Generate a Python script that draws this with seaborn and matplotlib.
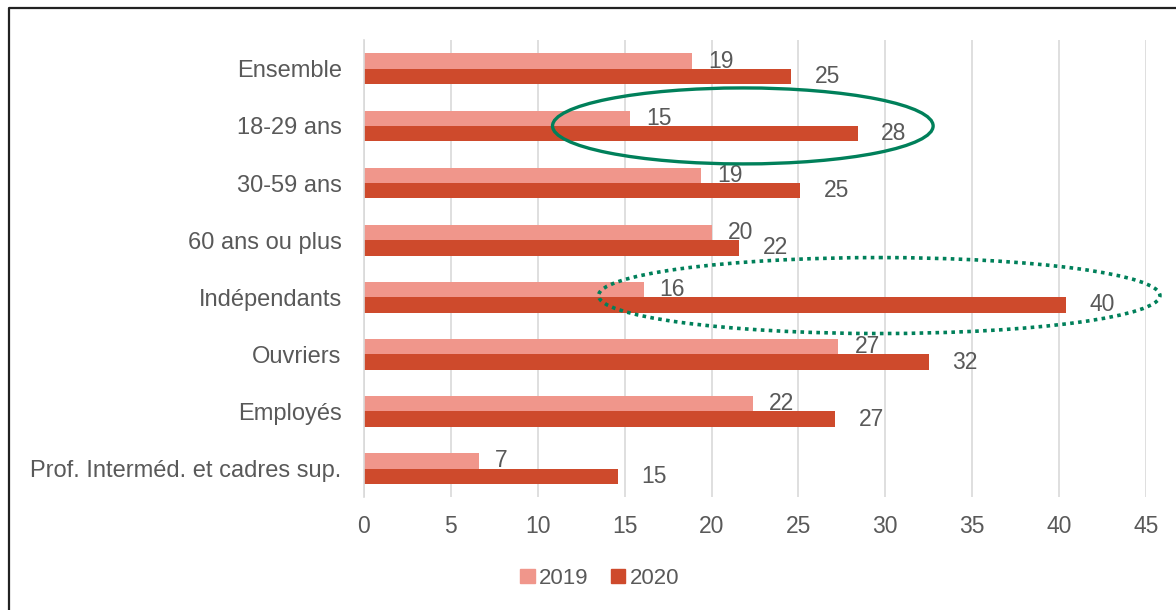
import pandas as pd
import matplotlib.pyplot as plt
import seaborn as sns
from matplotlib.patches import Ellipse
from matplotlib.lines import Line2D

# Data
categories = ['Ensemble', '18-29 ans', '30-59 ans', '60 ans ou plus',
              'Indépendants', 'Ouvriers', 'Employés', 'Prof. Interméd. et cadres sup.']
values_2019 = [18.9, 15.3, 19.4, 20.0, 16.1, 27.3, 22.4, 6.6]
values_2020 = [24.6, 28.4, 25.1, 21.6, 40.4, 32.5, 27.1, 14.6]
labels_2019 = [19, 15, 19, 20, 16, 27, 22, 7]
labels_2020 = [25, 28, 25, 22, 40, 32, 27, 15]
years = ['2019', '2020']
x_ticks = [0, 5, 10, 15, 20, 25, 30, 35, 40, 45]

df = pd.DataFrame({
    'cat': categories * 2,
    'value': values_2019 + values_2020,
    'year': [years[0]] * len(categories) + [years[1]] * len(categories),
})

sns.set_theme(style='white')
plt.rcParams['font.family'] = ['Liberation Sans', 'DejaVu Sans']
grey = '#595959'
colors = ['#F0968B', '#CE4A2C']
green = '#00805A'

fig = plt.figure(figsize=(11.76, 6.10), dpi=100)
ax = fig.add_axes([0.3095, 0.185, 0.665, 0.749])

sns.barplot(data=df, x='value', y='cat', hue='year', orient='h',
            palette=colors, width=0.54, saturation=1, linewidth=0,
            ax=ax, legend=True)

# Data labels
for cont, labs, pad in zip(ax.containers, [labels_2019, labels_2020], [11.5, 17]):
    ax.bar_label(cont, labels=[str(v) for v in labs], padding=pad,
                 fontsize=16.5, color=grey)

ax.set_xlim(0, 45)
ax.set_xticks(x_ticks)
ax.set_xlabel('')
ax.set_ylabel('')
ax.grid(axis='x', color='#D9D9D9', linewidth=1.2)
ax.set_axisbelow(True)
for s in ['top', 'right', 'bottom']:
    ax.spines[s].set_visible(False)
ax.spines['left'].set_color('#D9D9D9')
ax.spines['left'].set_linewidth(1.2)
ax.tick_params(axis='y', length=0, pad=16, labelsize=17, labelcolor=grey)
ax.tick_params(axis='x', length=0, pad=13, labelsize=16.5, labelcolor=grey)

# Legend
handles = [plt.Rectangle((0, 0), 1, 1, color=c) for c in colors]
ax.get_legend().remove()
fig.legend(handles, years, loc='center', bbox_to_anchor=(0.51, 0.052), ncol=2,
           frameon=False, fontsize=16, labelcolor=grey, handlelength=0.65,
           handleheight=0.65, handletextpad=0.2, columnspacing=1.0)

# Highlight ellipses
ax.add_patch(Ellipse((21.8, 1.0), 21.9, 1.33, fill=False, edgecolor=green,
                     linewidth=2.4, clip_on=False, zorder=5))
ax.add_patch(Ellipse((29.65, 3.97), 32.3, 1.33, fill=False, edgecolor=green,
                     linewidth=2.6, linestyle=(0, (1, 1.2)), clip_on=False, zorder=5))

# Outer frame (left and top edges visible)
fig.add_artist(Line2D([0.0077, 0.0077, 1.0], [0.0, 0.987, 0.987],
                      transform=fig.transFigure, color='#222222', linewidth=1.6))

fig.savefig('out.png', dpi=100)
